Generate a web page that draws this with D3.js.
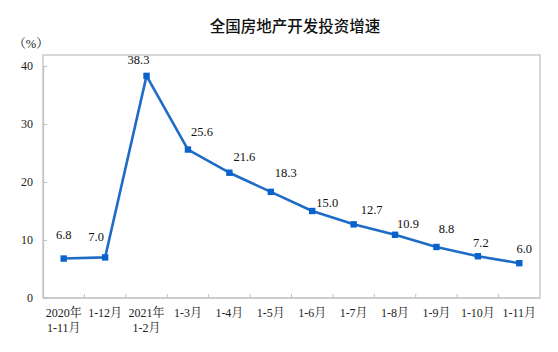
<!DOCTYPE html>
<html>
<head>
<meta charset="utf-8">
<script src="https://cdn.jsdelivr.net/npm/d3@7"></script>
<style>
  body { margin: 0; background: #fff; }
  svg text { font-family: "Liberation Serif", "Noto Serif CJK SC", "Noto Sans CJK SC", serif; }
</style>
</head>
<body>
<div id="viz-area"></div>
<script>
// data
const CATS   = ["2020年\n1-11月", "1-12月", "2021年\n1-2月", "1-3月", "1-4月", "1-5月",
                "1-6月", "1-7月", "1-8月", "1-9月", "1-10月", "1-11月"];
const VALUES = [6.8, 7.0, 38.3, 25.6, 21.6, 18.3, 15.0, 12.7, 10.9, 8.8, 7.2, 6.0];
const Y_TICKS = [0, 10, 20, 30, 40];

// label nudges (dx, dy of label centre from the point)
const LABEL_DX = [0, -9, -8, 14, 15, 15, 15, 18, 13, 10, 3, 5];
const LABEL_DY = [-24, -21, -16, -18, -16, -19, -9, -15, -11, -18, -14, -15];

const W = 558, H = 352;
const PLOT = { LEFT: 43, RIGHT: 540, TOP: 55, BOTTOM: 298 };

const svg = d3.select("#viz-area").append("svg")
  .attr("width", W).attr("height", H);

const x = d3.scaleBand().domain(CATS).range([PLOT.LEFT, PLOT.RIGHT]);
const y = d3.scaleLinear().domain([0, 40]).range([PLOT.BOTTOM, 66]);

// title
svg.append("text")
  .attr("x", 295).attr("y", 32)
  .attr("text-anchor", "middle")
  .style("font-family", "'Noto Sans CJK SC', sans-serif")
  .style("font-size", "15.5px")
  .style("font-weight", 500)
  .attr("fill", "#111")
  .text("全国房地产开发投资增速");

svg.append("text")
  .attr("x", 31).attr("y", 48)
  .attr("text-anchor", "middle")
  .style("font-size", "12.5px")
  .attr("fill", "#222")
  .text("（%）");

// frame
svg.append("rect")
  .attr("x", PLOT.LEFT).attr("y", PLOT.TOP)
  .attr("width", PLOT.RIGHT - PLOT.LEFT).attr("height", PLOT.BOTTOM - PLOT.TOP)
  .attr("fill", "none").attr("stroke", "#bfbfbf").attr("stroke-width", 1.2);

// y axis
const yAxis = svg.append("g")
  .attr("transform", `translate(${PLOT.LEFT},0)`)
  .call(d3.axisLeft(y).tickValues(Y_TICKS).tickSize(-4).tickSizeOuter(0).tickPadding(10));
yAxis.select(".domain").attr("stroke", "#bfbfbf").attr("stroke-width", 1.2);
yAxis.selectAll(".tick line").attr("stroke", "#bfbfbf");
yAxis.selectAll(".tick text")
  .style("font-size", "12px").attr("fill", "#222")
  .attr("font-family", null);

// x axis: ticks between bands, pointing up
const xg = svg.append("g");
xg.append("line")
  .attr("x1", PLOT.LEFT).attr("x2", PLOT.RIGHT)
  .attr("y1", PLOT.BOTTOM).attr("y2", PLOT.BOTTOM)
  .attr("stroke", "#bfbfbf").attr("stroke-width", 1.2);
xg.selectAll("line.tk")
  .data(CATS.slice(1))
  .enter().append("line")
  .attr("class", "tk")
  .attr("x1", d => x(d)).attr("x2", d => x(d))
  .attr("y1", PLOT.BOTTOM).attr("y2", PLOT.BOTTOM - 4)
  .attr("stroke", "#bfbfbf");

const xl = xg.selectAll("text")
  .data(CATS)
  .enter().append("text")
  .attr("x", d => x(d) + x.bandwidth() / 2)
  .attr("y", 317)
  .attr("text-anchor", "middle")
  .style("font-size", "12px")
  .attr("fill", "#222");
xl.each(function(d) {
  const lines = d.split("\n");
  const t = d3.select(this);
  lines.forEach((s, i) => {
    t.append("tspan")
      .attr("x", x(d) + x.bandwidth() / 2)
      .attr("dy", i === 0 ? 0 : 15)
      .text(s);
  });
});

// line + markers
const pts = CATS.map((c, i) => ({ c, v: VALUES[i], i }));
const line = d3.line()
  .x(d => x(d.c) + x.bandwidth() / 2)
  .y(d => y(d.v));

svg.append("path")
  .datum(pts)
  .attr("d", line)
  .attr("fill", "none")
  .attr("stroke", "#1f6cc6")
  .attr("stroke-width", 2.6)
  .attr("stroke-linejoin", "round");

svg.selectAll("rect.mk")
  .data(pts)
  .enter().append("rect")
  .attr("class", "mk")
  .attr("x", d => x(d.c) + x.bandwidth() / 2 - 3.2)
  .attr("y", d => y(d.v) - 3.2)
  .attr("width", 6.4).attr("height", 6.4)
  .attr("fill", "#0a63cc");

// value labels
svg.selectAll("text.val")
  .data(pts)
  .enter().append("text")
  .attr("class", "val")
  .attr("x", d => x(d.c) + x.bandwidth() / 2 + LABEL_DX[d.i])
  .attr("y", d => y(d.v) + LABEL_DY[d.i] + 4.5)
  .attr("text-anchor", "middle")
  .style("font-size", "12.5px")
  .attr("fill", "#111")
  .text(d => d.v.toFixed(1));
</script>
</body>
</html>
